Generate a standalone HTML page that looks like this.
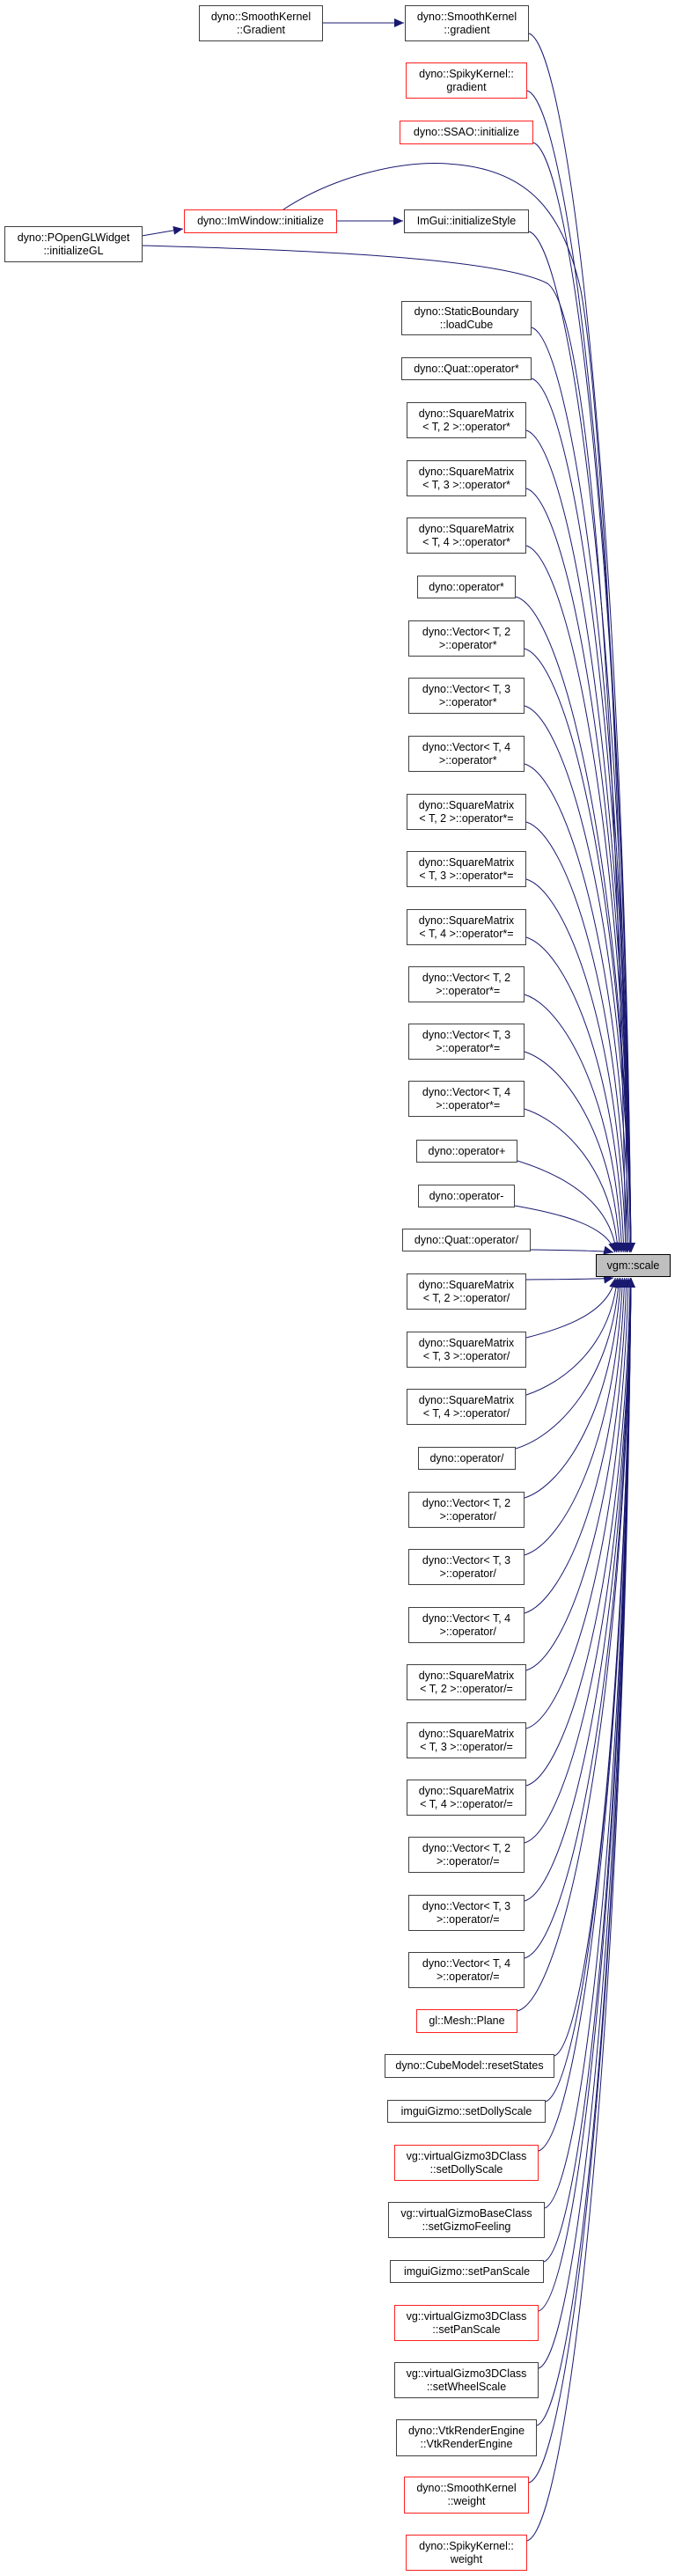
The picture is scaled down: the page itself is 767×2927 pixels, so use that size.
<!DOCTYPE html>
<html><head><meta charset="utf-8">
<style>
html,body{margin:0;padding:0;background:#fff;}
body{width:767px;height:2927px;position:relative;overflow:hidden;font-family:"Liberation Sans",Arial,sans-serif;}
.n{position:absolute;box-sizing:border-box;border:1px solid #404040;background:#fff;font-size:12.5px;line-height:15px;color:#000;text-align:center;display:flex;align-items:center;justify-content:center;white-space:pre;}
.r{border-color:#ff2020;}
.s{background:#bfbfbf;border-color:#000;}
svg{position:absolute;left:0;top:0;}
</style></head><body>
<svg id="sv" width="767" height="2927" viewBox="0 0 767 2927">
<defs><marker id="a" markerUnits="userSpaceOnUse" markerWidth="12" markerHeight="10" refX="11" refY="5" orient="auto"><path d="M0,0 L11,5 L0,10 z" fill="#191970"/></marker></defs>
<g id="eg" fill="none" stroke="#191970" stroke-width="1">
<path d="M366,26 L459,26" marker-end="url(#a)"/>
<path d="M161,268 L208,260" marker-end="url(#a)"/>
<path d="M382,251 L458,251" marker-end="url(#a)"/>
<path d="M322,238 C380,200 460,180 520,187 C600,195 640,240 660,330 C682,450 708,900 713,1423" marker-end="url(#a)"/>
<path d="M161,279 C300,283 560,290 622,322 C662,350 700,700 711,1423" marker-end="url(#a)"/>
</g>
</svg>
<div id="nodes">
<div class="n" style="left:226px;top:6px;width:141px;height:41px">dyno::SmoothKernel
::Gradient</div>
<div class="n" style="left:209px;top:238px;width:174px;height:27px;border-color:#ff2020">dyno::ImWindow::initialize</div>
<div class="n" style="left:5px;top:257px;width:157px;height:41px">dyno::POpenGLWidget
::initializeGL</div>
<div class="n s" style="left:677px;top:1425px;width:85px;height:26px">vgm::scale</div>
</div>
<div id="list">
<div class="n" style="left:460px;top:6px;width:141px;height:41px">dyno::SmoothKernel
::gradient</div>
<div class="n r" style="left:461px;top:71px;width:138px;height:41px">dyno::SpikyKernel::
gradient</div>
<div class="n r" style="left:454px;top:137px;width:152px;height:27px">dyno::SSAO::initialize</div>
<div class="n" style="left:459px;top:238px;width:142px;height:27px">ImGui::initializeStyle</div>
<div class="n" style="left:456px;top:342px;width:148px;height:39px">dyno::StaticBoundary
::loadCube</div>
<div class="n" style="left:456px;top:406px;width:148px;height:26px">dyno::Quat::operator*</div>
<div class="n" style="left:462px;top:457px;width:136px;height:41px">dyno::SquareMatrix
&lt; T, 2 &gt;::operator*</div>
<div class="n" style="left:462px;top:523px;width:136px;height:41px">dyno::SquareMatrix
&lt; T, 3 &gt;::operator*</div>
<div class="n" style="left:462px;top:588px;width:136px;height:41px">dyno::SquareMatrix
&lt; T, 4 &gt;::operator*</div>
<div class="n" style="left:474px;top:654px;width:112px;height:26px">dyno::operator*</div>
<div class="n" style="left:464px;top:705px;width:132px;height:41px">dyno::Vector&lt; T, 2
 &gt;::operator*</div>
<div class="n" style="left:464px;top:770px;width:132px;height:41px">dyno::Vector&lt; T, 3
 &gt;::operator*</div>
<div class="n" style="left:464px;top:836px;width:132px;height:41px">dyno::Vector&lt; T, 4
 &gt;::operator*</div>
<div class="n" style="left:462px;top:902px;width:136px;height:41px">dyno::SquareMatrix
&lt; T, 2 &gt;::operator*=</div>
<div class="n" style="left:462px;top:967px;width:136px;height:41px">dyno::SquareMatrix
&lt; T, 3 &gt;::operator*=</div>
<div class="n" style="left:462px;top:1033px;width:136px;height:41px">dyno::SquareMatrix
&lt; T, 4 &gt;::operator*=</div>
<div class="n" style="left:464px;top:1098px;width:132px;height:41px">dyno::Vector&lt; T, 2
 &gt;::operator*=</div>
<div class="n" style="left:464px;top:1163px;width:132px;height:41px">dyno::Vector&lt; T, 3
 &gt;::operator*=</div>
<div class="n" style="left:464px;top:1228px;width:132px;height:41px">dyno::Vector&lt; T, 4
 &gt;::operator*=</div>
<div class="n" style="left:473px;top:1295px;width:115px;height:26px">dyno::operator+</div>
<div class="n" style="left:475px;top:1346px;width:110px;height:26px">dyno::operator-</div>
<div class="n" style="left:457px;top:1396px;width:146px;height:26px">dyno::Quat::operator/</div>
<div class="n" style="left:462px;top:1447px;width:136px;height:41px">dyno::SquareMatrix
&lt; T, 2 &gt;::operator/</div>
<div class="n" style="left:462px;top:1513px;width:136px;height:41px">dyno::SquareMatrix
&lt; T, 3 &gt;::operator/</div>
<div class="n" style="left:462px;top:1578px;width:136px;height:41px">dyno::SquareMatrix
&lt; T, 4 &gt;::operator/</div>
<div class="n" style="left:475px;top:1644px;width:111px;height:26px">dyno::operator/</div>
<div class="n" style="left:464px;top:1695px;width:132px;height:41px">dyno::Vector&lt; T, 2
 &gt;::operator/</div>
<div class="n" style="left:464px;top:1760px;width:132px;height:41px">dyno::Vector&lt; T, 3
 &gt;::operator/</div>
<div class="n" style="left:464px;top:1826px;width:132px;height:41px">dyno::Vector&lt; T, 4
 &gt;::operator/</div>
<div class="n" style="left:462px;top:1891px;width:136px;height:41px">dyno::SquareMatrix
&lt; T, 2 &gt;::operator/=</div>
<div class="n" style="left:462px;top:1957px;width:136px;height:41px">dyno::SquareMatrix
&lt; T, 3 &gt;::operator/=</div>
<div class="n" style="left:462px;top:2022px;width:136px;height:41px">dyno::SquareMatrix
&lt; T, 4 &gt;::operator/=</div>
<div class="n" style="left:464px;top:2087px;width:132px;height:41px">dyno::Vector&lt; T, 2
 &gt;::operator/=</div>
<div class="n" style="left:464px;top:2153px;width:132px;height:41px">dyno::Vector&lt; T, 3
 &gt;::operator/=</div>
<div class="n" style="left:464px;top:2218px;width:132px;height:41px">dyno::Vector&lt; T, 4
 &gt;::operator/=</div>
<div class="n r" style="left:473px;top:2283px;width:115px;height:27px">gl::Mesh::Plane</div>
<div class="n" style="left:437px;top:2334px;width:193px;height:27px">dyno::CubeModel::resetStates</div>
<div class="n" style="left:440px;top:2386px;width:180px;height:26px">imguiGizmo::setDollyScale</div>
<div class="n r" style="left:448px;top:2437px;width:164px;height:41px">vg::virtualGizmo3DClass
::setDollyScale</div>
<div class="n" style="left:441px;top:2502px;width:178px;height:41px">vg::virtualGizmoBaseClass
::setGizmoFeeling</div>
<div class="n" style="left:443px;top:2568px;width:175px;height:26px">imguiGizmo::setPanScale</div>
<div class="n r" style="left:448px;top:2619px;width:164px;height:41px">vg::virtualGizmo3DClass
::setPanScale</div>
<div class="n" style="left:448px;top:2684px;width:164px;height:41px">vg::virtualGizmo3DClass
::setWheelScale</div>
<div class="n" style="left:450px;top:2749px;width:160px;height:42px">dyno::VtkRenderEngine
::VtkRenderEngine</div>
<div class="n r" style="left:459px;top:2814px;width:142px;height:42px">dyno::SmoothKernel
::weight</div>
<div class="n r" style="left:461px;top:2880px;width:138px;height:41px">dyno::SpikyKernel::
weight</div>
</div>
<script>
(function(){
var g=document.getElementById('eg');
var ns=document.querySelectorAll('#list .n');
var NS='http://www.w3.org/2000/svg';
for(var i=0;i<ns.length;i++){
 var e=ns[i];
 var x1=e.offsetLeft,y1=e.offsetTop,w=e.offsetWidth,h=e.offsetHeight;
 var x0=x1+w, mid=y1+h/2, d;
 var p=document.createElementNS(NS,'path');
 if(Math.abs(mid-1437)<20){
   var ye=mid<1437?1431:1444;
   p.setAttribute('d','M'+x0+','+(mid<1437?y1+h-3:y1+3)+' L676,'+ye);
 } else if(mid<1437){
   var y0=y1+h-(h>30?9:2); d=1423-y0;
   var xe=697+20*Math.min(d,600)/600;
   p.setAttribute('d','M'+x0+','+y0+' C'+(x0+0.4*(xe-x0))+','+(y0+Math.min(14,0.15*d))+' '+(xe-8)+','+(y0+0.4*d)+' '+xe+','+1423);
 } else {
   var y0=y1+(h>30?7:2); d=y0-1452;
   var xe=697+20*Math.min(d,600)/600;
   p.setAttribute('d','M'+x0+','+y0+' C'+(x0+0.4*(xe-x0))+','+(y0-Math.min(14,0.15*d))+' '+(xe-8)+','+(y0-0.4*d)+' '+xe+','+1452);
 }
 p.setAttribute('marker-end','url(#a)');
 g.appendChild(p);
}
})();
</script>
</body></html>
